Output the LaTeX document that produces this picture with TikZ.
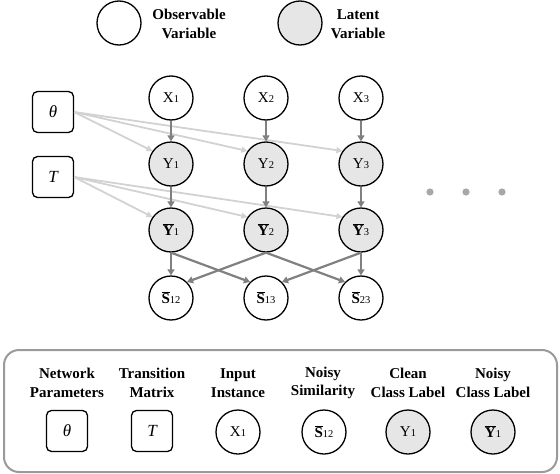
\documentclass[tikz,border=0pt]{standalone}
\usepackage{fontspec}
\setmainfont{Liberation Serif}
\usetikzlibrary{arrows.meta}
\definecolor{latent}{HTML}{E6E6E6}
\definecolor{darkarr}{HTML}{808080}
\definecolor{lightarr}{HTML}{D2D2D2}
\definecolor{framec}{HTML}{9A9A9A}
\definecolor{dotc}{HTML}{A8A8A8}
\newcommand{\smalldig}[1]{{\fontsize{10.5}{10.5}\selectfont #1}}
\newcommand{\Xl}[1]{X\smalldig{#1}}
\newcommand{\Yl}[1]{Y\smalldig{#1}}
\newcommand{\Ybl}[1]{$\overline{\mbox{\bfseries Y}}$\smalldig{#1}}
\newcommand{\Sbl}[1]{$\overline{\mbox{\bfseries S}}$\smalldig{#1}}
\begin{document}
\begin{tikzpicture}[x=1pt,y=-1pt,
  var/.style={circle,draw,line width=1.3pt,minimum size=44pt,inner sep=0pt,font=\fontsize{15}{15}\selectfont},
  obs/.style={var,fill=white},
  lat/.style={var,fill=latent},
  param/.style={draw,rounded corners=5pt,line width=1.3pt,minimum size=41pt,inner sep=0pt,font=\fontsize{17}{17}\selectfont\itshape},
  dark/.style={draw=darkarr,line width=2.2pt,-{Triangle[length=6pt,width=7pt]}},
  light/.style={draw=lightarr,line width=1.8pt,-{Triangle[length=6pt,width=6pt]}},
  legtext/.style={font=\fontsize{15}{18.5}\selectfont\bfseries,align=center},
]
\useasboundingbox (0,0) rectangle (560,474);

% top legend
\node[obs] (lobs) at (119,23) {};
\node[legtext] (lobst) at (189,24) {Observable\\Variable};
\node[lat] (llat) at (300,23) {};
\node[legtext] (llatt) at (358,24) {Latent\\Variable};

% parameters
\node[param] (th) at (53,112) {θ};
\node[param] (T) at (53,177) {T};

% graph nodes
\node[obs] (X1) at (171,98) {\Xl{1}};
\node[obs] (X2) at (266,98) {\Xl{2}};
\node[obs] (X3) at (361,98) {\Xl{3}};
\node[lat] (Y1) at (171,164) {\Yl{1}};
\node[lat] (Y2) at (266,164) {\Yl{2}};
\node[lat] (Y3) at (361,164) {\Yl{3}};
\node[lat] (B1) at (171,230) {\Ybl{1}};
\node[lat] (B2) at (266,230) {\Ybl{2}};
\node[lat] (B3) at (361,230) {\Ybl{3}};
\node[obs] (S12) at (171,298) {\Sbl{12}};
\node[obs] (S13) at (266,298) {\Sbl{13}};
\node[obs] (S23) at (361,298) {\Sbl{23}};

% light arrows
\foreach \t in {Y1,Y2,Y3} \draw[light] (th.east) -- (\t.145);
\foreach \t in {B1,B2,B3} \draw[light] (T.east) -- (\t.145);

% dark arrows
\foreach \i in {1,2,3} {
  \draw[dark] (X\i.south) -- (Y\i.north);
  \draw[dark] (Y\i.south) -- (B\i.north);
}
\draw[dark] (B1.south) -- (S12.north);
\draw[dark] (B1.south) -- (S13.north west);
\draw[dark] (B2.south) -- (S12.north east);
\draw[dark] (B2.south) -- (S23.north west);
\draw[dark] (B3.south) -- (S13.north east);
\draw[dark] (B3.south) -- (S23.north);

% dots
\fill[dotc] (430,192) circle (3.6);
\fill[dotc] (466,192) circle (3.6);
\fill[dotc] (502,192) circle (3.6);

% bottom legend
\draw[framec,line width=2pt,rounded corners=15pt] (4,350) rectangle (557,472);
\node[legtext] (t1) at (67,383) {Network\\Parameters};
\node[legtext] (t2) at (152,383) {Transition\\Matrix};
\node[legtext] (t3) at (238,383) {Input\\Instance};
\node[legtext] (t4) at (323,383) {Noisy\\Similarity};
\node[legtext] (t5) at (408,383) {Clean\\Class Label};
\node[legtext] (t6) at (493,383) {Noisy\\Class Label};
\node[param] (e1) at (67,431) {θ};
\node[param] (e2) at (152,431) {T};
\node[obs] (e3) at (238,432) {\Xl{1}};
\node[obs] (e4) at (324,432) {\Sbl{12}};
\node[lat] (e5) at (408,432) {\Yl{1}};
\node[lat] (e6) at (493,432) {\Ybl{1}};
\end{tikzpicture}
\end{document}
